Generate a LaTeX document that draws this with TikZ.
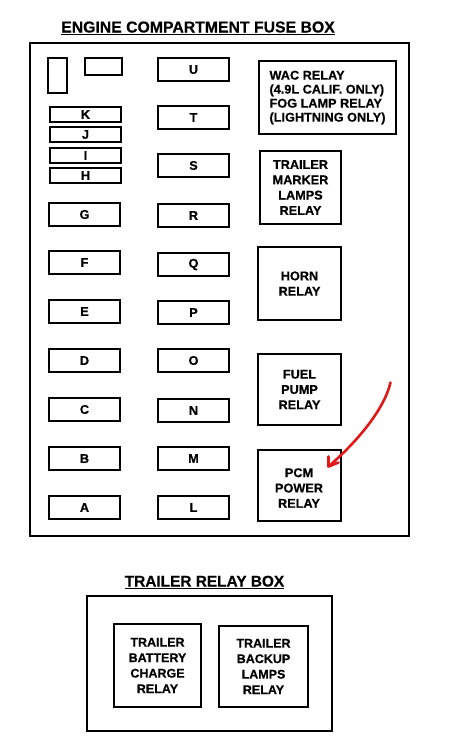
\documentclass[tikz,border=0pt]{standalone}
\usepackage{fontspec}
\setmainfont{Liberation Sans}
\newfontfamily\lbl{Liberation Sans Bold}[FakeBold=0.5]
\definecolor{penred}{RGB}{226,24,24}
\begin{document}
\begin{tikzpicture}[x=1pt,y=-1pt,
  box/.style={draw=black, line width=1.8pt, rectangle, inner sep=0pt, align=center,
    font=\fontsize{12.7}{15.3}\selectfont\lbl},
  fuse/.style={box, minimum width=71pt, minimum height=23pt},
  thin/.style={box, minimum width=71pt, minimum height=15pt},
  relay/.style={box, minimum width=83pt, minimum height=73pt},
  outer/.style={draw=black, line width=1.6pt, rectangle, inner sep=0pt},
  title/.style={inner sep=0pt, anchor=base, font=\fontsize{15.8}{18}\selectfont\lbl},
  redpen/.style={draw=penred, line width=2.6pt, line cap=round, line join=round}]
\useasboundingbox (0,0) rectangle (458,755);
\begin{scope}[shift={(0.5,0.5)}]
% titles
\node[title] (etitle) at (197.5,32) {ENGINE COMPARTMENT FUSE BOX};
\draw[line width=1.2pt] ([yshift=-2pt]etitle.base west) -- ([yshift=-2pt]etitle.base east);
\node[title, font=\fontsize{15.4}{18}\selectfont\lbl] (ttitle) at (204,586) {TRAILER RELAY BOX};
\draw[line width=1.2pt] ([yshift=-2pt]ttitle.base west) -- ([yshift=-2pt]ttitle.base east);
% engine compartment outer box
\node[outer, minimum width=379pt, minimum height=493pt] (engine) at (219,289) {};
% small unlabelled blocks
\node[box, minimum width=19pt, minimum height=35pt] (sv) at (57,75) {};
\node[box, minimum width=37pt, minimum height=17pt] (sh) at (103,66) {};
% thin fuses
\node[thin] (K) at (85,114) {K};
\node[thin] (J) at (85,134) {J};
\node[thin] (I) at (85,155) {I};
\node[thin] (H) at (85,175) {H};
% left column
\node[fuse] (G) at (84,214) {G};
\node[fuse] (F) at (84,262) {F};
\node[fuse] (E) at (84,311) {E};
\node[fuse] (D) at (84,360) {D};
\node[fuse] (C) at (84,409) {C};
\node[fuse] (B) at (84,458) {B};
\node[fuse] (A) at (84,507) {A};
% middle column
\node[fuse] (U) at (193,69) {U};
\node[fuse] (T) at (193,117) {T};
\node[fuse] (S) at (193,165) {S};
\node[fuse] (R) at (193,215) {R};
\node[fuse] (Q) at (193,264) {Q};
\node[fuse] (P) at (193,312) {P};
\node[fuse] (O) at (193,360) {O};
\node[fuse] (N) at (193,410) {N};
\node[fuse] (M) at (193,458) {M};
\node[fuse] (L) at (193,507) {L};
% relays
\node[box, minimum width=137pt, minimum height=73pt, align=left,
  font=\fontsize{12.7}{14}\selectfont\lbl] (wac) at (327,97)
  {WAC RELAY\\(4.9L CALIF. ONLY)\\FOG LAMP RELAY\\(LIGHTNING ONLY)};
\node[relay, minimum width=81pt] (marker) at (300,187) {TRAILER\\MARKER\\LAMPS\\RELAY};
\node[relay] (horn) at (299,283) {HORN\\RELAY};
\node[relay, minimum height=71pt] (fuel) at (299,389) {FUEL\\PUMP\\RELAY};
\node[relay, minimum height=71pt] (pcm) at (299,485) {};
\node[inner sep=0pt, align=center, font=\fontsize{12.7}{15.3}\selectfont\lbl] (pcmtext) at (298.5,487.5) {PCM\\POWER\\RELAY};
% trailer relay box
\node[outer, minimum width=245pt, minimum height=135pt] (trailer) at (209,663) {};
\node[box, minimum width=87pt, minimum height=83pt, font=\fontsize{12.5}{15.5}\selectfont\lbl] (battery) at (157,665) {TRAILER\\BATTERY\\CHARGE\\RELAY};
\node[box, minimum width=89pt, minimum height=81pt, font=\fontsize{12.5}{15.5}\selectfont\lbl] (backup) at (263,666) {TRAILER\\BACKUP\\LAMPS\\RELAY};
% red hand-drawn arrow
\coordinate (rs) at (390,382);
\coordinate (rt) at (328,466);
\draw[redpen] (rs) .. controls (384,408) and (358,440) .. (rt);
\draw[redpen] (328,456) -- (rt) -- (338,462);
\end{scope}
\end{tikzpicture}
\end{document}
